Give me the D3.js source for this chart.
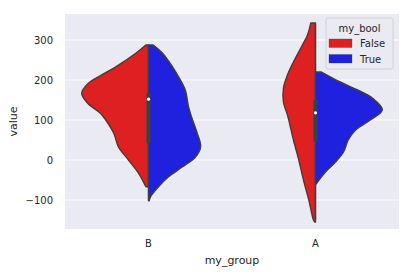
<!DOCTYPE html>
<html>
<head>
<meta charset="utf-8">
<script src="https://cdn.jsdelivr.net/npm/d3@7"></script>
<style>
  body { margin: 0; background: #fff; }
  text { font-family: "DejaVu Sans", sans-serif; fill: #262626; }
</style>
</head>
<body>
<div class="graph"></div>
<script>
// categories in drawing order, hue levels
const groups = ['B', 'A'];
const hues = ['False', 'True'];
const yTicks = [-100, 0, 100, 200, 300];

// density profiles (value, relative density)
const bFalseValues = [287.5, 267, 233, 208, 192, 167, 142, 117, 100, 67, 33, 0, -33, -67];
const bFalseDensity = [0.04, 0.19, 0.49, 0.75, 0.9, 1.0, 0.91, 0.72, 0.64, 0.52, 0.45, 0.3, 0.15, 0.04];
const bTrueValues = [287.5, 267, 233, 208, 175, 133, 100, 67, 33, 7, -17, -42, -67, -92, -102];
const bTrueDensity = [0.07, 0.21, 0.36, 0.45, 0.55, 0.6, 0.66, 0.73, 0.78, 0.7, 0.51, 0.3, 0.15, 0.03, 0.01];
const aFalseValues = [342.5, 312.5, 280, 245, 212.5, 180, 145, 112.5, 100, 50, 0, -50, -100, -150, -155];
const aFalseDensity = [0.07, 0.12, 0.22, 0.33, 0.42, 0.48, 0.48, 0.42, 0.4, 0.33, 0.25, 0.18, 0.1, 0.03, 0.01];
const aTrueValues = [220, 195, 175, 155, 125, 100, 75, 50, 20, -5, -30, -55, -60];
const aTrueDensity = [0.09, 0.37, 0.63, 0.85, 1.0, 0.82, 0.6, 0.49, 0.42, 0.3, 0.15, 0.03, 0.01];

// inner box stats per group: [whisker low, q1, median, q3, whisker high]
const bBox = [-100, 42, 152, 167, 285];
const aBox = [-150, 45, 118, 150, 340];

const violins = [
    {group: 'B', hue: 'False', values: bFalseValues, density: bFalseDensity},
    {group: 'B', hue: 'True', values: bTrueValues, density: bTrueDensity},
    {group: 'A', hue: 'False', values: aFalseValues, density: aFalseDensity},
    {group: 'A', hue: 'True', values: aTrueValues, density: aTrueDensity}
];
const boxes = [{group: 'B', stats: bBox}, {group: 'A', stats: aBox}];

const width = 411, height = 274;
const margin = {top: 14, right: 12, bottom: 45, left: 65};
const chartWidth = width - margin.left - margin.right;
const chartHeight = height - margin.top - margin.bottom;

const svg = d3.select('.graph')
    .append('svg')
    .attr('width', width)
    .attr('height', height);

const chart = svg.append('g')
    .attr('transform', `translate(${margin.left},${margin.top})`);

const xScale = d3.scaleBand()
    .domain(groups)
    .range([0, chartWidth]);
const yScale = d3.scaleLinear()
    .domain([-172.5, 365])
    .range([chartHeight, 0]);
const wScale = d3.scaleLinear()
    .domain([0, 1])
    .range([0, xScale.bandwidth() * 0.4]);
const colorScale = d3.scaleOrdinal()
    .domain(hues)
    .range(['#df2020', '#2020df']);

chart.append('rect')
    .attr('width', chartWidth)
    .attr('height', chartHeight)
    .attr('fill', '#eaeaf2');

chart.selectAll('.grid')
    .data(yTicks)
    .enter()
    .append('line')
    .classed('grid', true)
    .attr('x1', 0)
    .attr('x2', chartWidth)
    .attr('y1', d => yScale(d))
    .attr('y2', d => yScale(d))
    .attr('stroke', '#fff')
    .attr('stroke-width', 1.1);

// half violins
chart.selectAll('.violin')
    .data(violins)
    .enter()
    .append('path')
    .classed('violin', true)
    .attr('d', v => {
        const cx = xScale(v.group) + xScale.bandwidth() / 2;
        const side = v.hue === 'False' ? -1 : 1;
        const pts = v.values.map((val, i) => [val, v.density[i]]);
        return d3.area()
            .y(p => yScale(p[0]))
            .x0(cx)
            .x1(p => cx + side * wScale(p[1]))
            .curve(d3.curveCatmullRom)(pts);
    })
    .attr('fill', v => colorScale(v.hue))
    .attr('stroke', '#3f3f3f')
    .attr('stroke-width', 1.4)
    .attr('stroke-linejoin', 'round');

// inner boxes
const box = chart.selectAll('.box')
    .data(boxes)
    .enter()
    .append('g')
    .classed('box', true)
    .attr('transform', d => `translate(${xScale(d.group) + xScale.bandwidth() / 2},0)`);
box.append('line')
    .attr('y1', d => yScale(d.stats[0]))
    .attr('y2', d => yScale(d.stats[4]))
    .attr('stroke', '#3f3f3f')
    .attr('stroke-width', 1.2);
box.append('line')
    .attr('y1', d => yScale(d.stats[1]))
    .attr('y2', d => yScale(d.stats[3]))
    .attr('stroke', '#3f3f3f')
    .attr('stroke-width', 4);
box.append('circle')
    .attr('cy', d => yScale(d.stats[2]))
    .attr('r', 1.6)
    .attr('fill', '#fff');

// axes
const yAxis = chart.append('g')
    .call(d3.axisLeft(yScale).tickValues(yTicks).tickSize(0).tickPadding(12)
        .tickFormat(d => d < 0 ? '\u2212' + Math.abs(d) : d));
const xAxis = chart.append('g')
    .attr('transform', `translate(0,${chartHeight})`)
    .call(d3.axisBottom(xScale).tickSize(0).tickPadding(11));
[xAxis, yAxis].forEach(a => {
    a.select('.domain').remove();
    a.selectAll('text').style('font-size', '10px').attr('fill', '#262626')
        .style('font-family', '"DejaVu Sans", sans-serif');
});

chart.append('text')
    .attr('x', chartWidth / 2)
    .attr('y', chartHeight + 35)
    .style('font-size', '11px')
    .style('text-anchor', 'middle')
    .text('my_group');
chart.append('text')
    .attr('transform', `translate(${13 - margin.left + 4},${chartHeight / 2}) rotate(-90)`)
    .style('font-size', '11px')
    .style('text-anchor', 'middle')
    .text('value');

// legend
const legend = chart.append('g')
    .attr('transform', `translate(${chartWidth - 73},4)`);
legend.append('rect')
    .attr('width', 67)
    .attr('height', 51)
    .attr('rx', 2)
    .attr('fill', '#eaeaf2')
    .attr('stroke', '#cccccc')
    .attr('stroke-width', 0.8);
legend.append('text')
    .attr('x', 33.5)
    .attr('y', 13.5)
    .style('font-size', '10px')
    .style('text-anchor', 'middle')
    .text('my_bool');
const item = legend.selectAll('.item')
    .data(hues)
    .enter()
    .append('g')
    .attr('transform', (d, i) => `translate(3,${21 + i * 15.5})`);
item.append('rect')
    .attr('width', 23)
    .attr('height', 8.5)
    .attr('fill', d => colorScale(d))
    .attr('stroke', '#3f3f3f')
    .attr('stroke-width', 0.3);
item.append('text')
    .attr('x', 31)
    .attr('y', 8)
    .style('font-size', '10px')
    .text(d => d);
</script>
</body>
</html>
